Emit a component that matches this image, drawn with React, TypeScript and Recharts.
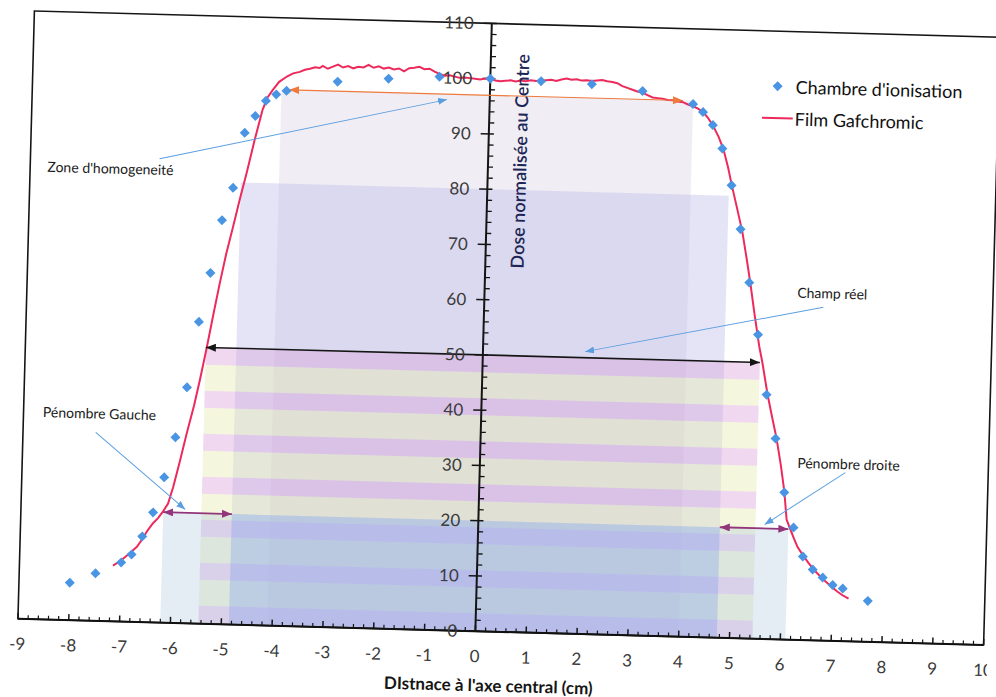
import React from "react";
import {
  ComposedChart,
  Line,
  Scatter,
  XAxis,
  YAxis,
  ReferenceArea,
  ReferenceLine,
  ReferenceDot,
  Legend,
} from "recharts";

// Chambre d'ionisation: [distance (cm), dose (%)]
const chamberProfile: [number, number][] = [
  [-8, 6.8], [-7.5, 8.6], [-7, 10.7], [-6.8, 12.2], [-6.6, 15.5], [-6.4, 19.9],
  [-6.2, 26.3], [-6, 33.6], [-5.8, 42.7], [-5.6, 54.6], [-5.4, 63.5], [-5.2, 73.1],
  [-5, 79.0], [-4.8, 89.0], [-4.6, 92.1], [-4.4, 94.9], [-4.2, 96.1], [-4, 96.8],
  [-3, 98.7], [-2, 99.5], [-1, 100.1], [0, 100.0], [1, 99.8], [2, 99.5], [3, 98.5],
  [4, 96.4], [4.2, 95.0], [4.4, 92.7], [4.6, 88.5], [4.8, 81.9], [5, 74.0],
  [5.2, 64.4], [5.4, 55.0], [5.6, 44.2], [5.8, 36.3], [6, 26.6], [6.2, 20.3],
  [6.4, 15.1], [6.6, 12.8], [6.8, 11.4], [7, 10.1], [7.2, 9.5], [7.7, 7.4],
];

// Film Gafchromic: [distance (cm), dose (%)]
const filmProfile: [number, number][] = [
  [-7.16, 10.1], [-7.0, 11.1], [-6.85, 12.3], [-6.7, 13.6], [-6.6, 15.0], [-6.5, 16.6],
  [-6.4, 17.9], [-6.3, 18.9], [-6.2, 20.2], [-6.11, 21.6], [-6.02, 24.5], [-5.9, 29.3],
  [-5.78, 34.4], [-5.65, 39.5], [-5.55, 44.1], [-5.43, 50.1], [-5.32, 56.0], [-5.21, 61.7],
  [-5.1, 67.0], [-4.98, 71.9], [-4.86, 77.0], [-4.74, 81.8], [-4.6, 87.8], [-4.46, 93.3],
  [-4.37, 95.5], [-4.27, 96.9], [-4.15, 98.4], [-4.0, 99.4], [-3.88, 100.0], [-3.75, 100.3],
  [-3.65, 100.7], [-3.55, 100.9], [-3.45, 101.2], [-3.36, 101.1], [-3.3, 101.5], [-3.2, 101.0],
  [-3.1, 101.4], [-3.0, 101.8], [-2.9, 101.3], [-2.8, 101.6], [-2.7, 101.2], [-2.6, 101.5],
  [-2.5, 101.4], [-2.4, 101.9], [-2.3, 101.4], [-2.2, 101.7], [-2.1, 101.3], [-2.0, 101.5],
  [-1.9, 101.2], [-1.8, 101.4], [-1.7, 100.9], [-1.6, 101.5], [-1.5, 101.6], [-1.4, 101.8],
  [-1.3, 101.4], [-1.2, 101.5], [-1.1, 101.0], [-1.0, 100.6], [-0.9, 100.3], [-0.8, 100.4],
  [-0.7, 100.2], [-0.6, 100.0], [-0.5, 100.1], [-0.4, 100.0], [-0.3, 99.9], [-0.2, 99.8],
  [-0.1, 100.0], [0, 100.0], [0.1, 99.7], [0.2, 99.6], [0.3, 99.7], [0.4, 99.8],
  [0.5, 99.6], [0.6, 99.8], [0.7, 99.7], [0.8, 99.9], [0.9, 99.8], [1.0, 99.9],
  [1.1, 100.0], [1.2, 100.1], [1.3, 99.9], [1.4, 100.2], [1.5, 100.4], [1.6, 100.2],
  [1.7, 100.3], [1.8, 100.1], [1.9, 100.2], [2.0, 100.1], [2.1, 100.2], [2.2, 100.3],
  [2.3, 100.1], [2.4, 100.0], [2.5, 99.8], [2.6, 99.3], [2.7, 99.0], [2.8, 98.7],
  [2.9, 98.4], [3.0, 98.2], [3.1, 97.8], [3.2, 97.4], [3.3, 97.3], [3.4, 97.2],
  [3.5, 97.0], [3.6, 97.0], [3.7, 96.8], [3.8, 96.7], [3.9, 96.3], [4.0, 96.0],
  [4.1, 95.6], [4.2, 95.0], [4.3, 94.0], [4.41, 92.5], [4.52, 90.6], [4.62, 88.4],
  [4.72, 85.2], [4.81, 81.7], [4.92, 77.8], [5.04, 73.4], [5.13, 69.0], [5.22, 64.4],
  [5.32, 58.7], [5.43, 52.9], [5.5, 50.0], [5.62, 44.2], [5.72, 40.2], [5.82, 36.3],
  [5.92, 31.4], [6.0, 26.8], [6.06, 21.7], [6.14, 19.9], [6.22, 18.2], [6.29, 16.8],
  [6.42, 15.1], [6.52, 13.9], [6.62, 12.8], [6.72, 11.9], [6.82, 11.0], [6.95, 10.0],
  [7.1, 8.9], [7.2, 8.3], [7.32, 7.7],
];

const xTicks = [-9, -8, -7, -6, -5, -4, -3, -2, -1, 0, 1, 2, 3, 4, 5, 6, 7, 8, 9, 10];
const yTicks = [0, 10, 20, 30, 40, 50, 60, 70, 80, 90, 100, 110];

// minor graduations: 0.2 cm on the distance axis, 2 % on the dose axis
const xMinorTicks = Array.from({ length: 96 }, (_, i) => Math.round((-9 + i * 0.2) * 10) / 10).filter(
  (v) => !Number.isInteger(v)
);
const yMinorTicks = Array.from({ length: 56 }, (_, i) => i * 2).filter((v) => v % 10 !== 0);

// shaded zones (cm / %)
const zones = [
  { key: "homog", x1: -4.1, x2: 4.0, y1: 0, y2: 97 },
  { key: "p80", x1: -4.85, x2: 4.75, y1: 0, y2: 80 },
  { key: "champ", x1: -5.45, x2: 5.45, y1: 0, y2: 50 },
  { key: "p20", x1: -6.2, x2: 6.1, y1: 0, y2: 20 },
  { key: "p20core", x1: -4.85, x2: 4.75, y1: 0, y2: 20 },
];

// double arrows (widths) and callout arrows
const arrows = [
  { kind: "orange", from: [-3.95, 97], to: [3.8, 97], both: true },
  { kind: "black", from: [-5.45, 50], to: [5.45, 50], both: true },
  { kind: "purple", from: [-6.2, 20], to: [-4.85, 20], both: true },
  { kind: "purple", from: [4.75, 20], to: [6.1, 20], both: true },
  { kind: "blue", from: [-6.46, 83.9], to: [-0.84, 96.0], both: false },
  { kind: "blue", from: [6.67, 60.3], to: [2.01, 51.1], both: false },
  { kind: "blue", from: [-7.57, 34.1], to: [-5.77, 20.6], both: false },
  { kind: "blue", from: [7.19, 30.5], to: [5.63, 20.7], both: false },
];

const notes = [
  { text: "Zone d'homogeneité", at: [-8.66, 81.9] },
  { text: "Champ réel", at: [6.15, 62.8] },
  { text: "Pénombre Gauche", at: [-8.62, 37.5] },
  { text: "Pénombre droite", at: [6.24, 32.0] },
];

const yTitle = { text: "Dose normalisée au Centre", at: [0.63, 85.2] };
const xTitle = "DIstnace à l'axe central (cm)";

const zoneStyle: Record<string, { fill: string; opacity: number }> = {
  homog: { fill: "#d8cce0", opacity: 0.35 },
  p80: { fill: "#bcbce8", opacity: 0.4 },
  champ: { fill: "url(#champStripes)", opacity: 0.42 },
  p20: { fill: "#a5c0da", opacity: 0.3 },
  p20core: { fill: "#9ab6f2", opacity: 0.38 },
};

const arrowColor: Record<string, string> = {
  black: "#151515",
  orange: "#ee7a3c",
  purple: "#93357a",
  blue: "#5b9fe0",
};
const arrowWidth: Record<string, number> = { black: 1.6, orange: 1.2, purple: 1.8, blue: 1 };

const FONT = "Lato, 'Open Sans', sans-serif";
const TICK_COLOR = "#3b3b3b";

const chamber = chamberProfile.map(([x, y]) => ({ x, y }));
const film = filmProfile.map(([x, y]) => ({ x, y }));

function Diamond(props: any) {
  const { cx, cy, fill } = props;
  if (cx == null || cy == null) return null;
  const r = 5;
  return <path d={`M${cx},${cy - r}L${cx + r},${cy}L${cx},${cy + r}L${cx - r},${cy}Z`} fill={fill} />;
}

const arrowShape = (kind: string, both: boolean) => (p: any) => (
  <line
    x1={p.x1}
    y1={p.y1}
    x2={p.x2}
    y2={p.y2}
    stroke={arrowColor[kind]}
    strokeWidth={arrowWidth[kind]}
    markerEnd={`url(#head-${kind})`}
    markerStart={both ? `url(#head-${kind})` : undefined}
  />
);

function LegendBox({ payload }: any) {
  const items = [...(payload ?? [])].sort((a: any, b: any) => String(a.value).localeCompare(String(b.value)));
  return (
    <div style={{ fontFamily: FONT, fontSize: 18, color: "#111" }}>
      {items.map((it: any) => (
        <div key={it.value} style={{ display: "flex", alignItems: "center", height: 32 }}>
          <svg width={33} height={16}>
            {it.type === "line" ? (
              <line x1={0} y1={8} x2={31} y2={8} stroke={it.color} strokeWidth={2} />
            ) : (
              <path d="M15,3L20,8L15,13L10,8Z" fill={it.color} />
            )}
          </svg>
          <span>{it.value}</span>
        </div>
      ))}
    </div>
  );
}

export default function App() {
  return (
    <div
      style={{
        position: "absolute",
        left: 0,
        top: 0,
        width: 996,
        height: 697,
        background: "#fff",
        fontFamily: FONT,
        transform: "rotate(1.55deg)",
        transformOrigin: "509px 328px",
      }}
    >
      <ComposedChart width={996} height={697} margin={{ top: 24, right: 4, bottom: 5, left: 26 }}>
        <defs>
          {/* horizontal bands of the "champ réel" fill, starting at the 50 % edge */}
          <pattern id="champStripes" patternUnits="userSpaceOnUse" x={0} y={356} width={996} height={43}>
            <rect x={0} y={0} width={996} height={17} fill="#d9a3dc" />
            <rect x={0} y={17} width={996} height={26} fill="#e6eab0" />
          </pattern>
          {Object.keys(arrowColor).map((k) => (
            <marker
              key={k}
              id={`head-${k}`}
              viewBox="0 0 10 10"
              refX={10}
              refY={5}
              markerWidth={k === "blue" ? 9 : 10}
              markerHeight={k === "blue" ? 7 : 8}
              markerUnits="userSpaceOnUse"
              preserveAspectRatio="none"
              orient="auto-start-reverse"
            >
              <path d="M0,0L10,5L0,10Z" fill={arrowColor[k]} />
            </marker>
          ))}
        </defs>

        <XAxis
          type="number"
          dataKey="x"
          domain={[-9, 10]}
          ticks={xTicks}
          interval={0}
          allowDataOverflow
          height={60}
          tickLine={false}
          tickMargin={13}
          axisLine={{ stroke: "#111", strokeWidth: 2 }}
          tick={{ fontSize: 17, fill: TICK_COLOR }}
          label={{
            value: xTitle,
            position: "insideBottom",
            offset: 0,
            dx: -11,
            fontSize: 17,
            fontWeight: 700,
            fill: "#151515",
          }}
        />
        <YAxis type="number" dataKey="y" domain={[0, 110]} hide width={0} allowDataOverflow />

        {zones.map((z) => (
          <ReferenceArea
            key={z.key}
            x1={z.x1}
            x2={z.x2}
            y1={z.y1}
            y2={z.y2}
            fill={zoneStyle[z.key].fill}
            fillOpacity={zoneStyle[z.key].opacity}
            stroke="none"
          />
        ))}

        {/* plot frame */}
        <ReferenceArea x1={-9} x2={10} y1={0} y2={110} fill="none" stroke="#151515" strokeWidth={1.6} />

        {/* dose axis drawn through x = 0 */}
        <ReferenceLine x={0} stroke="#151515" strokeWidth={2} />
        {yTicks.map((v) => (
          <ReferenceLine
            key={`ym${v}`}
            segment={[
              { x: -0.16, y: v },
              { x: 0.1, y: v },
            ]}
            stroke="#151515"
            strokeWidth={1.5}
            label={{ value: String(v), position: "left", offset: 10, fontSize: 17, fill: TICK_COLOR }}
          />
        ))}
        {yMinorTicks.map((v) => (
          <ReferenceLine
            key={`yn${v}`}
            segment={[
              { x: 0, y: v },
              { x: 0.1, y: v },
            ]}
            stroke="#151515"
            strokeWidth={1.3}
          />
        ))}
        {xTicks.map((v) => (
          <ReferenceLine
            key={`xm${v}`}
            segment={[
              { x: v, y: 0 },
              { x: v, y: 1.1 },
            ]}
            stroke="#151515"
            strokeWidth={1.5}
          />
        ))}
        {xMinorTicks.map((v) => (
          <ReferenceLine
            key={`xn${v}`}
            segment={[
              { x: v, y: 0 },
              { x: v, y: 0.7 },
            ]}
            stroke="#151515"
            strokeWidth={1.2}
          />
        ))}

        <Line
          data={film}
          dataKey="y"
          name="Film Gafchromic"
          type="linear"
          stroke="#ec2a5c"
          strokeWidth={2}
          dot={false}
          legendType="line"
          isAnimationActive={false}
        />
        <Scatter
          data={chamber}
          dataKey="y"
          name="Chambre d'ionisation"
          fill="#4a94e4"
          legendType="diamond"
          shape={Diamond}
          isAnimationActive={false}
        />

        {arrows.map((a, i) => (
          <ReferenceLine
            key={`ar${i}`}
            segment={[
              { x: a.from[0], y: a.from[1] },
              { x: a.to[0], y: a.to[1] },
            ]}
            shape={arrowShape(a.kind, a.both)}
          />
        ))}

        {notes.map((n) => (
          <ReferenceDot
            key={n.text}
            x={n.at[0]}
            y={n.at[1]}
            r={0}
            fill="none"
            stroke="none"
            label={{ value: n.text, position: "right", offset: 0, fontSize: 14, fill: "#1a1a1a" }}
          />
        ))}
        <ReferenceDot
          x={yTitle.at[0]}
          y={yTitle.at[1]}
          r={0}
          fill="none"
          stroke="none"
          label={{
            value: yTitle.text,
            position: "center",
            angle: -90,
            fontSize: 18,
            fontWeight: 600,
            fill: "#1c2756",
          }}
        />

        <Legend
          layout="vertical"
          align="center"
          verticalAlign="middle"
          content={<LegendBox />}
          wrapperStyle={{ left: 756, top: 63, width: 240 }}
        />
      </ComposedChart>
    </div>
  );
}
